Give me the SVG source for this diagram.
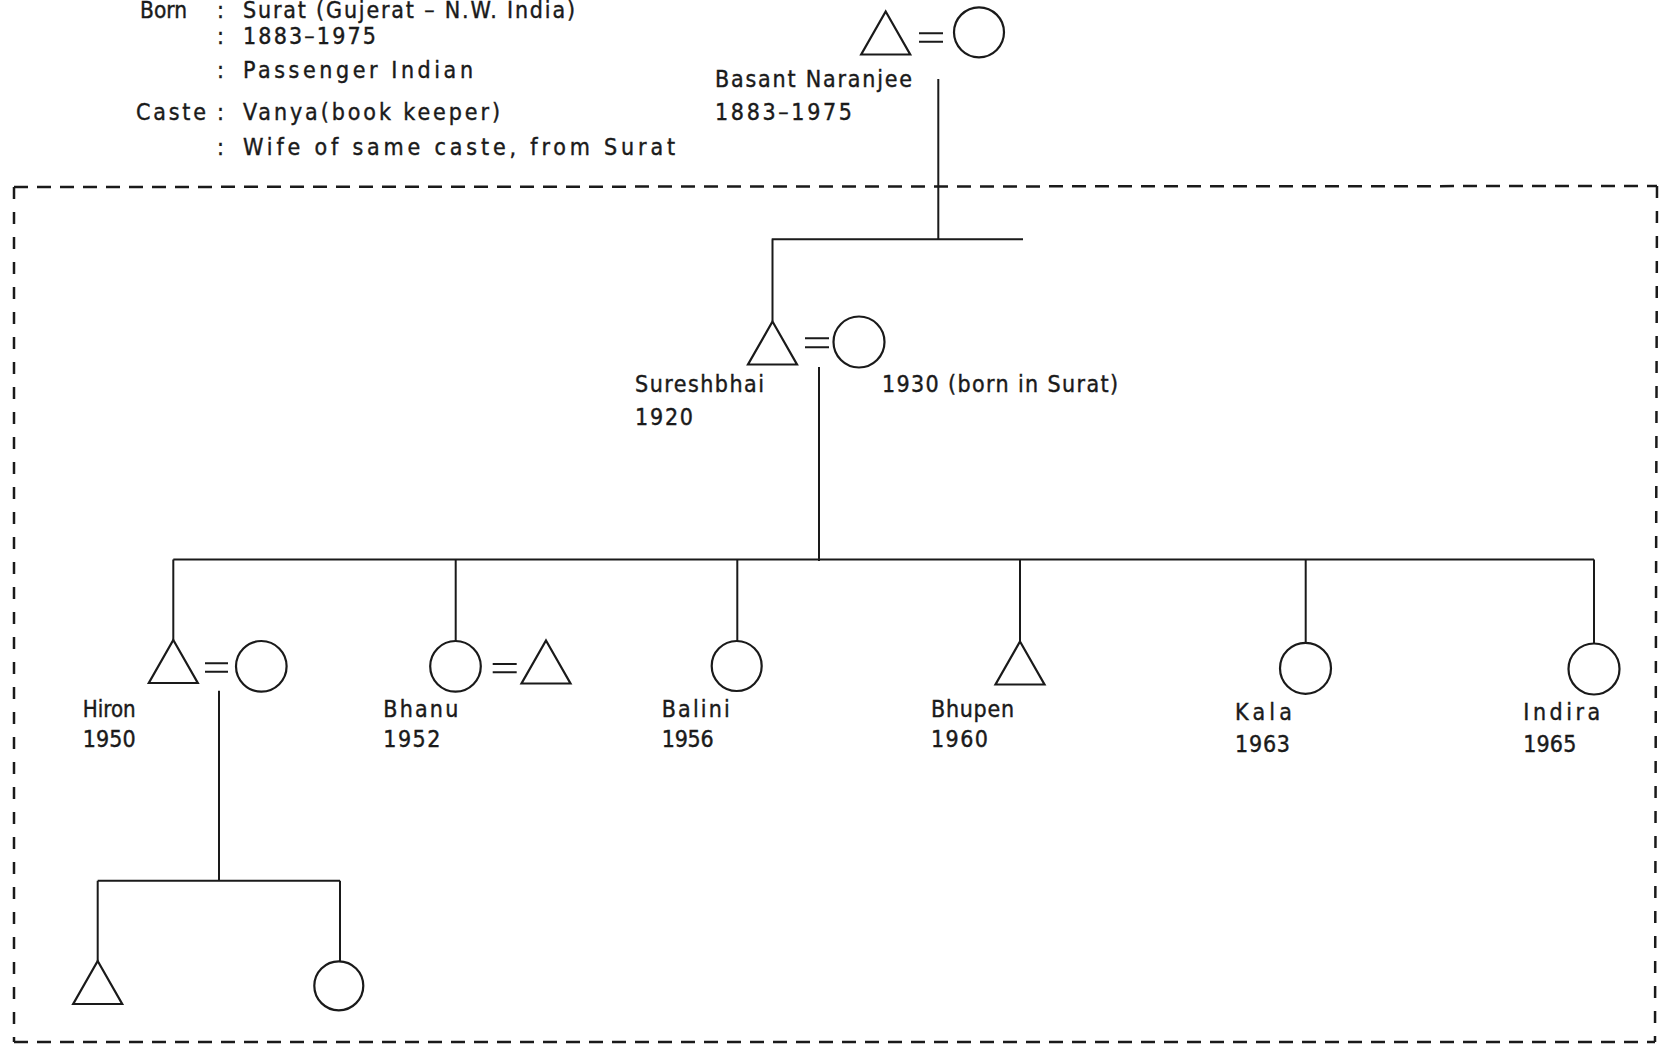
<svg xmlns="http://www.w3.org/2000/svg" width="1666" height="1048" viewBox="0 0 1666 1048">
<style>
.t{font-family:"DejaVu Sans Condensed","DejaVu Sans",sans-serif;font-stretch:condensed;font-size:23px;fill:#1a1a1a;stroke:#1a1a1a;stroke-width:0.4}
.s{fill:none;stroke:#1a1a1a;stroke-width:2.2}
.l{fill:none;stroke:#1a1a1a;stroke-width:2}
.dh{fill:none;stroke:#1a1a1a;stroke-width:2.5;stroke-dasharray:14 9}
.dv{fill:none;stroke:#1a1a1a;stroke-width:2.5;stroke-dasharray:12 13}
</style>
<defs>
<path id="tri" d="M0,0 L24.5,43 L-24.5,43 Z"/>
</defs>
<rect width="1666" height="1048" fill="#fff"/>

<g id="legend">
<text class="t" x="140" y="18" textLength="47" lengthAdjust="spacingAndGlyphs">Born</text>
<text class="t" x="217" y="18">:</text>
<text class="t" x="243" y="18" textLength="332">Surat (Gujerat – N.W. India)</text>
<text class="t" x="217" y="44">:</text>
<text class="t" x="243" y="44" textLength="133">1883–1975</text>
<text class="t" x="217" y="78">:</text>
<text class="t" x="243" y="78" textLength="230">Passenger Indian</text>
<text class="t" x="136" y="120" textLength="70">Caste</text>
<text class="t" x="217" y="120">:</text>
<text class="t" x="243" y="120" textLength="257">Vanya(book keeper)</text>
<text class="t" x="217" y="155">:</text>
<text class="t" x="243" y="155" textLength="432">Wife of same caste, from Surat</text>
</g>

<g id="frame">
<line class="dh" x1="14" y1="187" x2="1657" y2="186"/>
<line class="dv" x1="1657" y1="186" x2="1655" y2="1042"/>
<line class="dh" x1="14" y1="1042" x2="1655" y2="1042"/>
<line class="dv" x1="14" y1="187" x2="14" y2="1042"/>
</g>

<g id="connectors">
<path class="l" d="M938.3,79 V239.3 M771.7,239.3 H1023 M772.5,239.3 V321.5"/>
<path class="l" d="M819,367 V561 M173.3,559.5 H1594 M173.3,559.5 V640 M455.7,559.5 V641 M737.3,559.5 V641 M1020,559.5 V641.7 M1305.7,559.5 V642.7 M1594,559.5 V644"/>
<path class="l" d="M219,690.7 V880.7 M97.7,880.7 H340 M97.7,880.7 V961 M340,880.7 V961"/>
</g>

<g id="basant">
<use href="#tri" class="s" x="885.7" y="11.5"/>
<path class="l" d="M919,33.3 H943 M919,41.7 H943"/>
<text class="t" x="715" y="87.3" textLength="197">Basant Naranjee</text>
<text class="t" x="715" y="120" textLength="137">1883–1975</text>
</g>
<g id="basant-wife">
<circle class="s" cx="979" cy="32.3" r="25"/>
</g>

<g id="sureshbhai">
<use href="#tri" class="s" x="772.5" y="321.5"/>
<path class="l" d="M805,338.3 H829 M805,347.3 H829"/>
<text class="t" x="635" y="392.3" textLength="129">Sureshbhai</text>
<text class="t" x="635" y="425" textLength="58">1920</text>
</g>
<g id="sureshbhai-wife">
<circle class="s" cx="859" cy="342" r="25.5"/>
<text class="t" x="882" y="392.3" textLength="236">1930 (born in Surat)</text>
</g>

<g id="hiron">
<use href="#tri" class="s" x="173.3" y="640"/>
<path class="l" d="M205,663.3 H228 M205,671.7 H228"/>
<text class="t" x="82.7" y="716.7" textLength="53" lengthAdjust="spacingAndGlyphs">Hiron</text>
<text class="t" x="82.7" y="746.7" textLength="53">1950</text>
</g>
<g id="hiron-wife">
<circle class="s" cx="261.3" cy="666.3" r="25.3"/>
</g>

<g id="bhanu">
<circle class="s" cx="455.5" cy="666.3" r="25.3"/>
<path class="l" d="M492.7,664 H516.7 M492.7,672.3 H516.7"/>
<text class="t" x="383.3" y="716.7" textLength="75">Bhanu</text>
<text class="t" x="383.3" y="746.7" textLength="57">1952</text>
</g>
<g id="bhanu-husband">
<use href="#tri" class="s" x="546" y="640.5"/>
</g>

<g id="balini">
<circle class="s" cx="736.7" cy="666" r="25"/>
<text class="t" x="661.7" y="716.7" textLength="68">Balini</text>
<text class="t" x="661.7" y="747" textLength="52">1956</text>
</g>

<g id="bhupen">
<use href="#tri" class="s" x="1020" y="641.5"/>
<text class="t" x="931" y="716.7" textLength="83">Bhupen</text>
<text class="t" x="931" y="746.7" textLength="57">1960</text>
</g>

<g id="kala">
<circle class="s" cx="1305.5" cy="668.3" r="25.5"/>
<text class="t" x="1235" y="720" textLength="57">Kala</text>
<text class="t" x="1235" y="751.7" textLength="55">1963</text>
</g>

<g id="indira">
<circle class="s" cx="1594" cy="669" r="25.5"/>
<text class="t" x="1523.3" y="720" textLength="77">Indira</text>
<text class="t" x="1523.3" y="751.7" textLength="53">1965</text>
</g>

<g id="grandson">
<use href="#tri" class="s" x="97.7" y="961"/>
</g>
<g id="granddaughter">
<circle class="s" cx="338.8" cy="985.8" r="24.5"/>
</g>
</svg>
